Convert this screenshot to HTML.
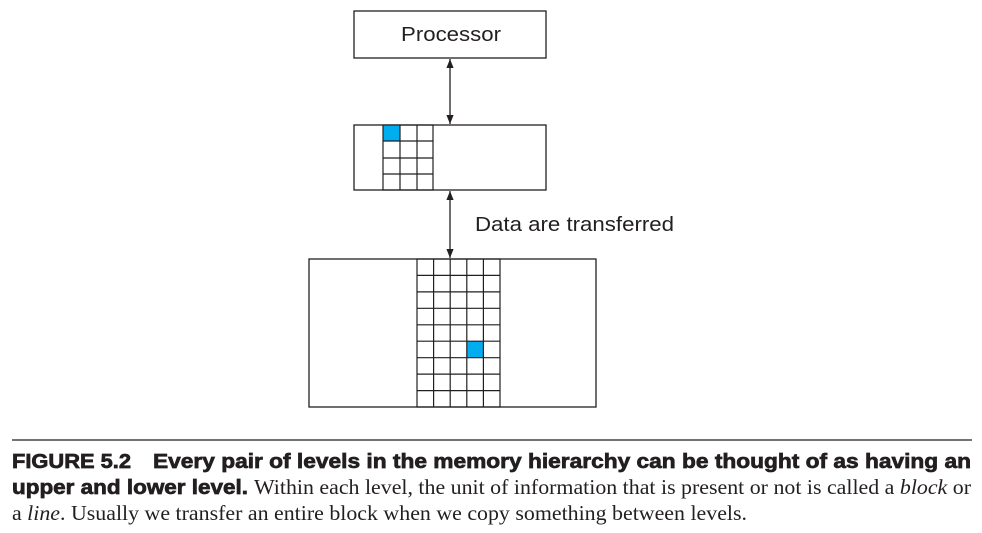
<!DOCTYPE html>
<html><head><meta charset="utf-8"><style>
html,body{margin:0;padding:0;background:#fff;width:982px;height:533px;overflow:hidden}
</style></head><body>
<svg width="982" height="533" viewBox="0 0 982 533" xmlns="http://www.w3.org/2000/svg">
<defs>
<marker id="ah" viewBox="0 0 10 10" refX="10" refY="5" markerWidth="10" markerHeight="9" orient="auto-start-reverse" markerUnits="userSpaceOnUse">
<path d="M0,1 L10,5 L0,9 Z" fill="#231f20"/>
</marker>
</defs>
<g stroke="#231f20" stroke-width="1.3" fill="none">
<rect x="354" y="11" width="192" height="47"/>
<rect x="354" y="125" width="192" height="65"/>
<rect x="309" y="259" width="287" height="148"/>
<line x1="450" y1="59" x2="450" y2="124" marker-start="url(#ah)" marker-end="url(#ah)"/>
<line x1="450" y1="191" x2="450" y2="258" marker-start="url(#ah)" marker-end="url(#ah)"/>
</g>
<rect x="383" y="125" width="17" height="16" fill="#00aeef"/>
<rect x="467" y="341" width="16.6" height="16.4" fill="#00aeef"/>
<g stroke="#231f20" stroke-width="1.2" fill="none">
<rect x="383" y="125" width="50" height="65"/>
<line x1="400" y1="125" x2="400" y2="190"/><line x1="417" y1="125" x2="417" y2="190"/>
<line x1="383" y1="141" x2="433" y2="141"/><line x1="383" y1="158" x2="433" y2="158"/><line x1="383" y1="174" x2="433" y2="174"/>
<rect x="417" y="259" width="83" height="148"/>
<line x1="433.6" y1="259" x2="433.6" y2="407"/><line x1="450.2" y1="259" x2="450.2" y2="407"/><line x1="466.8" y1="259" x2="466.8" y2="407"/><line x1="483.4" y1="259" x2="483.4" y2="407"/>
<line x1="417" y1="275.4" x2="500" y2="275.4"/><line x1="417" y1="291.9" x2="500" y2="291.9"/><line x1="417" y1="308.3" x2="500" y2="308.3"/><line x1="417" y1="324.8" x2="500" y2="324.8"/><line x1="417" y1="341.2" x2="500" y2="341.2"/><line x1="417" y1="357.7" x2="500" y2="357.7"/><line x1="417" y1="374.1" x2="500" y2="374.1"/><line x1="417" y1="390.6" x2="500" y2="390.6"/>
</g>
<g font-family="Liberation Sans, sans-serif" fill="#231f20">
<text x="401" y="41" font-size="20.5" textLength="100" lengthAdjust="spacingAndGlyphs">Processor</text>
<text x="475" y="231" font-size="20.5" textLength="199" lengthAdjust="spacingAndGlyphs">Data are transferred</text>
</g>
<line x1="12" y1="440" x2="972" y2="440" stroke="#231f20" stroke-width="1.2"/>
<g fill="#231f20">
<g font-family="Liberation Sans, sans-serif" font-weight="bold" font-size="20" stroke="#231f20" stroke-width="0.7">
<text x="12" y="468" textLength="119" lengthAdjust="spacingAndGlyphs">FIGURE 5.2</text>
<text x="153" y="468" textLength="818" lengthAdjust="spacingAndGlyphs">Every pair of levels in the memory hierarchy can be thought of as having an</text>
<text x="12" y="494" textLength="236" lengthAdjust="spacingAndGlyphs">upper and lower level.</text>
</g>
<text x="254" y="494" font-family="Liberation Serif, serif" font-size="21" textLength="717" lengthAdjust="spacingAndGlyphs">Within each level, the unit of information that is present or not is called a <tspan font-style="italic">block</tspan> or</text>
<text x="12" y="520" font-family="Liberation Serif, serif" font-size="21" textLength="735" lengthAdjust="spacingAndGlyphs">a <tspan font-style="italic">line</tspan>. Usually we transfer an entire block when we copy something between levels.</text>
</g>
</svg>
</body></html>
